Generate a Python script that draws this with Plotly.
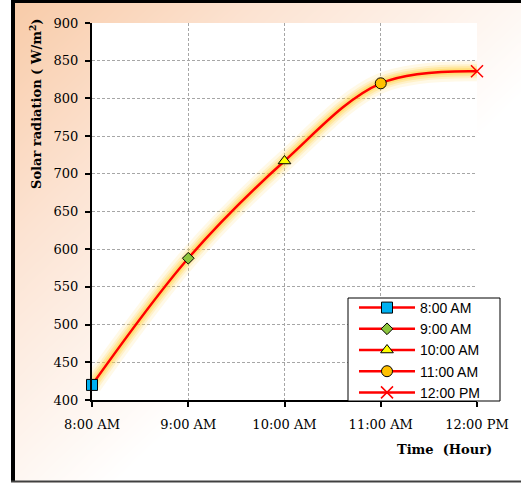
import numpy as np
import plotly.graph_objects as go

# Hourly solar radiation readings
times = ["8:00 AM", "9:00 AM", "10:00 AM", "11:00 AM", "12:00 PM"]
radiation = [420, 588, 717, 820, 836]

marker_symbols = ["square", "diamond", "triangle-up", "circle", "x-thin"]
marker_colors = ["#00B0F0", "#8DC63F", "#FFFF00", "#FFC000", "#FF0000"]
marker_sizes = [11, 9, 11, 11, 12]

y_ticks = list(range(400, 901, 50))

W, H = 521, 483


def px_x(p):
    return p / W


def px_y(p):
    return 1 - p / H


xpos = list(range(len(times)))

fig = go.Figure()

# Diagonal peach-to-white backdrop behind the whole chart
n = 60
u = np.linspace(0, 1, n)
v = np.linspace(0, 1, n)
U, V = np.meshgrid(u, v)
T = (U + (1 - V)) / 2
fig.add_trace(go.Heatmap(
    x=u, y=v, z=T, zsmooth="best", showscale=False, hoverinfo="skip",
    colorscale=[[0, "#F8CBA8"], [0.25, "#FCE3D2"], [0.6, "#FFFFFF"], [1, "#FFFFFF"]],
    zmin=0, zmax=1, xaxis="x", yaxis="y",
))

# Soft yellow glow under the curve
for w, op in [(20, 0.12), (14, 0.18), (10, 0.28), (6, 0.4)]:
    fig.add_trace(go.Scatter(
        x=xpos, y=radiation, mode="lines", xaxis="x2", yaxis="y2",
        line=dict(color="#FFD23F", width=w, shape="spline", smoothing=1.0),
        opacity=op, showlegend=False, hoverinfo="skip", cliponaxis=False,
    ))

# Main red curve
fig.add_trace(go.Scatter(
    x=xpos, y=radiation, mode="lines", xaxis="x2", yaxis="y2",
    line=dict(color="#FF0000", width=2.5, shape="spline", smoothing=1.0),
    showlegend=False, hoverinfo="skip", cliponaxis=False,
))

# One marker per hour, each with its own legend entry
for i, t in enumerate(times):
    is_x = marker_symbols[i] == "x-thin"
    fig.add_trace(go.Scatter(
        x=[xpos[i]], y=[radiation[i]], mode="lines+markers", name=t,
        xaxis="x2", yaxis="y2", cliponaxis=False,
        line=dict(color="#FF0000", width=2.5),
        marker=dict(
            symbol=marker_symbols[i], size=marker_sizes[i], color=marker_colors[i],
            line=dict(color="#FF0000" if is_x else "#000000", width=1.5 if is_x else 1),
        ),
    ))

grid = dict(showgrid=True, gridcolor="#A6A6A6", gridwidth=1, griddash="3px,2px")
tick_font = dict(family="DejaVu Serif", size=13, color="black")

fig.update_layout(
    width=W, height=H,
    margin=dict(l=0, r=0, t=0, b=0, autoexpand=False),
    paper_bgcolor="white",
    plot_bgcolor="white",
    xaxis=dict(domain=[px_x(14), 1], range=[0, 1], visible=False, anchor="y", fixedrange=True),
    yaxis=dict(domain=[0, 1], range=[0, 1], visible=False, anchor="x", fixedrange=True),
    xaxis2=dict(
        domain=[px_x(92), px_x(477)], anchor="y2", range=[0, 4],
        tickvals=xpos, ticktext=times,
        showline=True, linecolor="black", linewidth=2,
        ticks="outside", ticklen=5, tickwidth=1.5, tickcolor="black",
        tickfont=tick_font, ticklabelstandoff=6,
        zeroline=False, automargin=False, **grid,
    ),
    yaxis2=dict(
        domain=[px_y(400), px_y(23)], anchor="x2", range=[400, 900],
        tickvals=y_ticks,
        showline=True, linecolor="black", linewidth=2,
        ticks="outside", ticklen=5, tickwidth=1.5, tickcolor="black",
        tickfont=tick_font, ticklabelstandoff=4,
        zeroline=False, automargin=False, **grid,
    ),
    legend=dict(
        x=px_x(354), y=px_y(292), xanchor="left", yanchor="top",
        bgcolor="rgba(0,0,0,0)", borderwidth=0,
        font=dict(family="Liberation Sans", size=14, color="black"),
        itemwidth=56, tracegroupgap=0,
    ),
    annotations=[
        dict(text="<b>Solar radiation ( W/m<sup>2</sup>)</b>", textangle=-90,
             x=px_x(35), y=px_y(104), xref="paper", yref="paper",
             showarrow=False, font=dict(family="DejaVu Serif", size=13, color="black"),
             xanchor="center", yanchor="middle"),
        dict(text="<b>Time  (Hour)</b>", x=px_x(444), y=px_y(449),
             xref="paper", yref="paper", showarrow=False,
             font=dict(family="DejaVu Serif", size=13, color="black"),
             xanchor="center", yanchor="middle"),
    ],
    shapes=[
        # legend box
        dict(type="rect", xref="paper", yref="paper", layer="above",
             x0=px_x(348), x1=px_x(500), y0=px_y(298), y1=px_y(401),
             fillcolor="white", line=dict(color="black", width=1)),
        # chart frame
        dict(type="line", xref="paper", yref="paper", x0=px_x(13), x1=px_x(13),
             y0=px_y(0), y1=px_y(482), line=dict(color="black", width=4)),
        dict(type="line", xref="paper", yref="paper", x0=px_x(11), x1=1,
             y0=px_y(1.5), y1=px_y(1.5), line=dict(color="black", width=3)),
        dict(type="line", xref="paper", yref="paper", x0=px_x(11), x1=1,
             y0=px_y(481.5), y1=px_y(481.5), line=dict(color="#404040", width=2)),
    ],
)

fig.write_html("out.html")
